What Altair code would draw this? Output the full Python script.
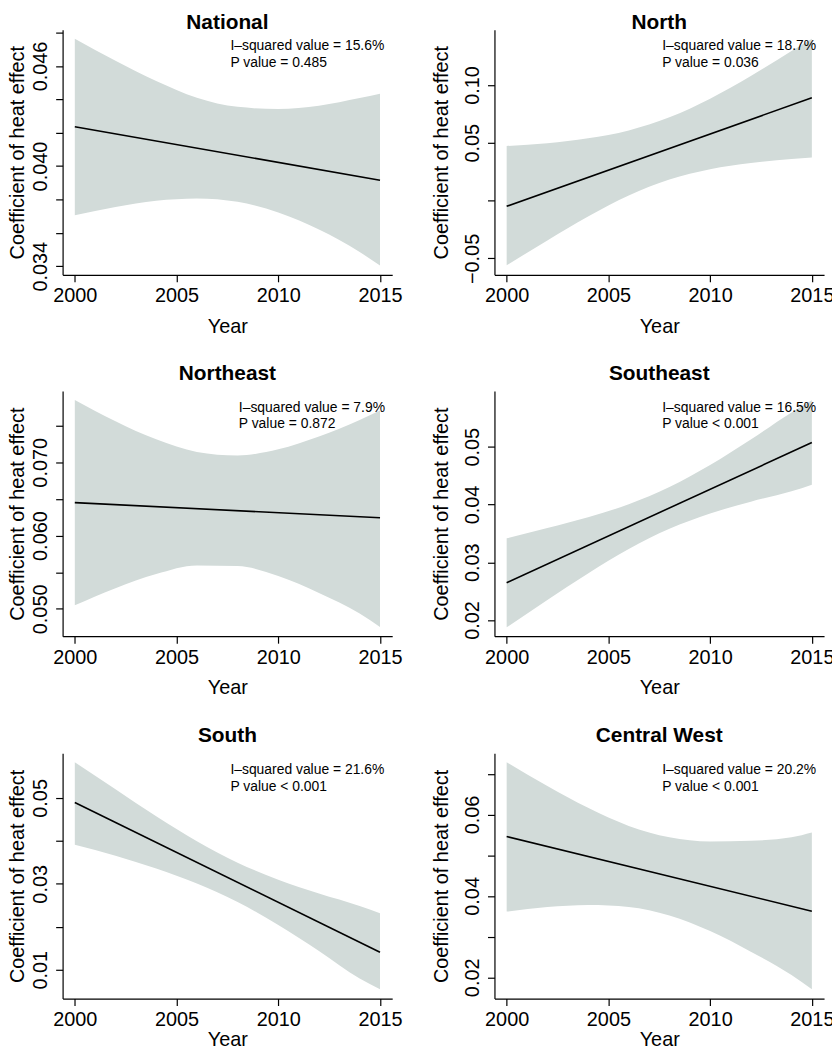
import altair as alt
import pandas as pd

FONT = "Liberation Sans, Arial, Helvetica, sans-serif"
BAND = "#D2DBD9"

# ---------------- data ----------------
YEARS = [2000, 2002, 2004, 2006, 2008, 2010, 2012, 2014, 2015]
FIT_YEARS = [2000, 2015]
X_TICKS = [2000, 2005, 2010, 2015]

REGIONS = ["National", "North", "Northeast", "Southeast", "South", "Central West"]
I_SQUARED = ["15.6%", "18.7%", "7.9%", "16.5%", "21.6%", "20.2%"]
P_VALUES = ["= 0.485", "= 0.036", "= 0.872", "< 0.001", "< 0.001", "< 0.001"]

national_lower = [0.03705, 0.03755, 0.03792, 0.03806, 0.03786, 0.03722, 0.03620, 0.03485, 0.03404]
national_upper = [0.04764, 0.04632, 0.04510, 0.04410, 0.04355, 0.04342, 0.04362, 0.04408, 0.04434]
national_fit = [0.04236, 0.03915]

north_lower = [-0.0560, -0.0344, -0.0137, 0.0045, 0.0182, 0.0271, 0.0325, 0.0360, 0.0373]
north_upper = [0.0472, 0.0495, 0.0538, 0.0607, 0.0720, 0.0881, 0.1077, 0.1293, 0.1400]
north_fit = [-0.0050, 0.0889]

northeast_lower = [0.05049, 0.05283, 0.05475, 0.05592, 0.05584, 0.05447, 0.05217, 0.04937, 0.04752]
northeast_upper = [0.07851, 0.07561, 0.07313, 0.07142, 0.07094, 0.07177, 0.07352, 0.07577, 0.07707]
northeast_fit = [0.06450, 0.06243]

southeast_lower = [0.01874, 0.02347, 0.02807, 0.03229, 0.03579, 0.03845, 0.04050, 0.04229, 0.04343]
southeast_upper = [0.03417, 0.03593, 0.03779, 0.04005, 0.04303, 0.04685, 0.05126, 0.05595, 0.05806]
southeast_fit = [0.02646, 0.05074]

south_lower = [0.03908, 0.03655, 0.03356, 0.03008, 0.02577, 0.02041, 0.01436, 0.00795, 0.00546]
south_upper = [0.05831, 0.05199, 0.04570, 0.03988, 0.03491, 0.03097, 0.02774, 0.02485, 0.02315]
south_fit = [0.04892, 0.01408]

cwest_lower = [0.03615, 0.03725, 0.03776, 0.03729, 0.03521, 0.03136, 0.02629, 0.02054, 0.01708]
cwest_upper = [0.07284, 0.06701, 0.06162, 0.05719, 0.05439, 0.05334, 0.05353, 0.05438, 0.05555]
cwest_fit = [0.05458, 0.03623]

LOWERS = [national_lower, north_lower, northeast_lower, southeast_lower, south_lower, cwest_lower]
UPPERS = [national_upper, north_upper, northeast_upper, southeast_upper, south_upper, cwest_upper]
FITS = [national_fit, north_fit, northeast_fit, southeast_fit, south_fit, cwest_fit]

# y-axis ranges, tick positions and the tick labels that are printed
Y_DOMAINS = [
    [0.03348, 0.04818],
    [-0.0642, 0.1478],
    [0.04627, 0.07973],
    [0.0172, 0.05966],
    [0.0033, 0.06036],
    [0.01478, 0.0750],
]
Y_TICKS = [
    [0.034, 0.036, 0.038, 0.040, 0.042, 0.044, 0.046, 0.048],
    [-0.05, 0.0, 0.05, 0.10],
    [0.050, 0.055, 0.060, 0.065, 0.070, 0.075],
    [0.02, 0.03, 0.04, 0.05],
    [0.01, 0.02, 0.03, 0.04, 0.05],
    [0.02, 0.03, 0.04, 0.05, 0.06, 0.07],
]
Y_LABELS = [
    {0.034: "0.034", 0.040: "0.040", 0.046: "0.046"},
    {-0.05: "\u22120.05", 0.05: "0.05", 0.10: "0.10"},
    {0.050: "0.050", 0.060: "0.060", 0.070: "0.070"},
    {0.02: "0.02", 0.03: "0.03", 0.04: "0.04", 0.05: "0.05"},
    {0.01: "0.01", 0.03: "0.03", 0.05: "0.05"},
    {0.02: "0.02", 0.04: "0.04", 0.06: "0.06"},
]

# ---------------- layout / style ----------------
PLOT_W = 332
PLOT_H = 247
TEXT_X = [169, 169, 177.5, 169, 169, 169]
TITLE_OFFSET = [-3, 7, 7]


def label_expr(labels):
    parts = [f"datum.value == {v!r} ? '{s}' : " for v, s in labels.items()]
    return "".join(parts) + "''"


def make_panel(i, col, row):
    last_row = row == 2
    band_df = pd.DataFrame({"year": YEARS, "lower": LOWERS[i], "upper": UPPERS[i]})
    fit_df = pd.DataFrame({"year": FIT_YEARS, "fit": FITS[i]})

    xscale = alt.Scale(domain=[1999.4, 2015.6], nice=False, zero=False)
    yscale = alt.Scale(domain=Y_DOMAINS[i], nice=False, zero=False)

    xaxis = alt.Axis(
        values=X_TICKS, format="d", title="Year", grid=False,
        tickSize=7, labelPadding=4, titlePadding=0 if last_row else 11,
        labelAngle=0, labelFlush=False, labelOverlap=False,
    )
    yaxis = alt.Axis(
        values=Y_TICKS[i], labelExpr=label_expr(Y_LABELS[i]),
        title="Coefficient of heat effect", grid=False,
        tickSize=7, labelPadding=5, titlePadding=3 if col == 0 else 11,
        labelAngle=270, labelAlign="center", labelBaseline="bottom",
        labelFlush=False, labelOverlap=False,
    )
    x = alt.X("year:Q", scale=xscale, axis=xaxis)

    band = alt.Chart(band_df).mark_area(color=BAND, opacity=1, interpolate="monotone").encode(
        x=x,
        y=alt.Y("lower:Q", scale=yscale, axis=yaxis),
        y2="upper:Q",
    )
    line = alt.Chart(fit_df).mark_line(color="black", strokeWidth=1.6).encode(
        x=x,
        y=alt.Y("fit:Q", scale=yscale, axis=yaxis),
    )
    t1 = alt.Chart(pd.DataFrame({"t": [f"I\u2013squared value = {I_SQUARED[i]}"]})).mark_text(
        align="left", baseline="middle", font=FONT, fontSize=14, color="black"
    ).encode(text="t:N", x=alt.value(TEXT_X[i]), y=alt.value(16.8))
    t2 = alt.Chart(pd.DataFrame({"t": [f"P value {P_VALUES[i]}"]})).mark_text(
        align="left", baseline="middle", font=FONT, fontSize=14, color="black"
    ).encode(text="t:N", x=alt.value(TEXT_X[i]), y=alt.value(33.5))

    return alt.layer(band, line, t1, t2).properties(
        width=PLOT_W,
        height=PLOT_H,
        title=alt.TitleParams(
            text=REGIONS[i], fontSize=21, fontWeight="bold", font=FONT,
            color="black", offset=TITLE_OFFSET[row], anchor="middle", frame="group",
        ),
    )


rows = []
for r in range(3):
    rows.append(
        alt.hconcat(
            make_panel(2 * r, 0, r),
            make_panel(2 * r + 1, 1, r),
            spacing=30,
        )
    )

top_two = alt.vconcat(rows[0], rows[1], spacing=27)

chart = (
    alt.vconcat(top_two, rows[2], spacing=28)
    .properties(padding={"left": 0, "top": 0, "right": -2, "bottom": -4})
    .configure(font=FONT)
    .configure_view(strokeWidth=0)
    .configure_axis(
        domainColor="black", tickColor="black", labelColor="black", titleColor="black",
        domainWidth=1.2, tickWidth=1.2,
        labelFont=FONT, titleFont=FONT, labelFontSize=20, titleFontSize=20,
        titleFontWeight="normal",
    )
)

chart.save("out.html", embed_options={"renderer": "svg", "actions": False})
